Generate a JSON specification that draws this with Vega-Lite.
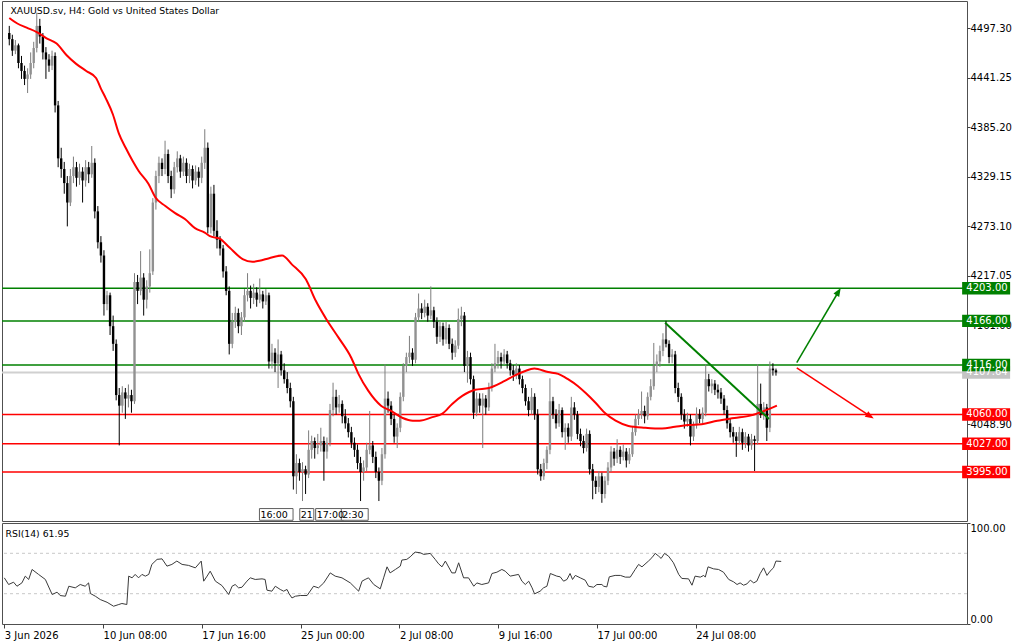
{
"$schema":"https://vega.github.io/schema/vega-lite/v6.json",
"padding":0,
"background":"#ffffff",
"spacing":2,
"bounds":"flush",
"config":{"view":{"stroke":"#505050","strokeWidth":1},"font":"DejaVu Sans","axis":{"labelFont":"DejaVu Sans","labelFontSize":10,"labelColor":"#000000","tickColor":"#404040","domain":false,"grid":false}},
"datasets":{
"candles":[
{"i":0,"o":4492,"h":4500,"l":4478,"c":4485},{"i":1,"o":4485,"h":4490,"l":4466,"c":4472},{"i":2,"o":4472,"h":4484,"l":4468,"c":4478},{"i":3,"o":4478,"h":4480,"l":4452,"c":4458},{"i":4,"o":4458,"h":4466,"l":4440,"c":4449},{"i":5,"o":4449,"h":4455,"l":4433,"c":4440},{"i":6,"o":4440,"h":4452,"l":4424,"c":4445},{"i":7,"o":4445,"h":4470,"l":4440,"c":4458},{"i":8,"o":4458,"h":4482,"l":4452,"c":4475},{"i":9,"o":4475,"h":4515,"l":4470,"c":4500},
{"i":10,"o":4500,"h":4508,"l":4480,"c":4488},{"i":11,"o":4488,"h":4492,"l":4462,"c":4470},{"i":12,"o":4470,"h":4476,"l":4440,"c":4462},{"i":13,"o":4462,"h":4468,"l":4448,"c":4455},{"i":14,"o":4455,"h":4472,"l":4450,"c":4466},{"i":15,"o":4466,"h":4470,"l":4402,"c":4410},{"i":16,"o":4410,"h":4415,"l":4340,"c":4350},{"i":17,"o":4350,"h":4362,"l":4328,"c":4338},{"i":18,"o":4338,"h":4346,"l":4310,"c":4322},{"i":19,"o":4322,"h":4330,"l":4273,"c":4300},
{"i":20,"o":4300,"h":4338,"l":4296,"c":4330},{"i":21,"o":4330,"h":4352,"l":4322,"c":4340},{"i":22,"o":4340,"h":4346,"l":4318,"c":4328},{"i":23,"o":4328,"h":4344,"l":4320,"c":4335},{"i":24,"o":4335,"h":4340,"l":4300,"c":4325},{"i":25,"o":4325,"h":4348,"l":4318,"c":4340},{"i":26,"o":4340,"h":4346,"l":4322,"c":4332},{"i":27,"o":4332,"h":4364,"l":4328,"c":4345},{"i":28,"o":4345,"h":4350,"l":4282,"c":4290},{"i":29,"o":4290,"h":4296,"l":4248,"c":4255},
{"i":30,"o":4255,"h":4262,"l":4232,"c":4240},{"i":31,"o":4240,"h":4246,"l":4172,"c":4185},{"i":32,"o":4185,"h":4200,"l":4178,"c":4195},{"i":33,"o":4195,"h":4198,"l":4150,"c":4160},{"i":34,"o":4160,"h":4172,"l":4132,"c":4140},{"i":35,"o":4140,"h":4145,"l":4076,"c":4082},{"i":36,"o":4082,"h":4090,"l":4025,"c":4070},{"i":37,"o":4070,"h":4092,"l":4062,"c":4085},{"i":38,"o":4085,"h":4090,"l":4055,"c":4078},{"i":39,"o":4078,"h":4094,"l":4068,"c":4082},
{"i":40,"o":4082,"h":4088,"l":4062,"c":4075},{"i":41,"o":4075,"h":4220,"l":4072,"c":4210},{"i":42,"o":4210,"h":4218,"l":4185,"c":4200},{"i":43,"o":4200,"h":4245,"l":4195,"c":4215},{"i":44,"o":4215,"h":4220,"l":4172,"c":4190},{"i":45,"o":4190,"h":4212,"l":4180,"c":4205},{"i":46,"o":4205,"h":4247,"l":4198,"c":4220},{"i":47,"o":4222,"h":4305,"l":4218,"c":4300},{"i":48,"o":4300,"h":4336,"l":4292,"c":4330},{"i":49,"o":4330,"h":4352,"l":4322,"c":4345},
{"i":50,"o":4345,"h":4350,"l":4330,"c":4338},{"i":51,"o":4338,"h":4370,"l":4332,"c":4355},{"i":52,"o":4355,"h":4360,"l":4322,"c":4330},{"i":53,"o":4330,"h":4336,"l":4305,"c":4315},{"i":54,"o":4315,"h":4346,"l":4310,"c":4340},{"i":55,"o":4340,"h":4358,"l":4334,"c":4350},{"i":56,"o":4350,"h":4354,"l":4328,"c":4335},{"i":57,"o":4335,"h":4352,"l":4330,"c":4345},{"i":58,"o":4345,"h":4350,"l":4322,"c":4330},{"i":59,"o":4330,"h":4344,"l":4322,"c":4338},
{"i":60,"o":4338,"h":4342,"l":4316,"c":4325},{"i":61,"o":4325,"h":4342,"l":4320,"c":4335},{"i":62,"o":4335,"h":4340,"l":4318,"c":4328},{"i":63,"o":4328,"h":4352,"l":4322,"c":4345},{"i":64,"o":4345,"h":4383,"l":4338,"c":4362},{"i":65,"o":4362,"h":4368,"l":4265,"c":4272},{"i":66,"o":4272,"h":4318,"l":4265,"c":4310},{"i":67,"o":4310,"h":4320,"l":4262,"c":4268},{"i":68,"o":4268,"h":4280,"l":4248,"c":4258},{"i":69,"o":4258,"h":4262,"l":4240,"c":4248},
{"i":70,"o":4248,"h":4252,"l":4215,"c":4222},{"i":71,"o":4222,"h":4228,"l":4195,"c":4200},{"i":72,"o":4200,"h":4205,"l":4128,"c":4140},{"i":73,"o":4140,"h":4175,"l":4135,"c":4165},{"i":74,"o":4165,"h":4182,"l":4158,"c":4175},{"i":75,"o":4175,"h":4180,"l":4152,"c":4160},{"i":76,"o":4160,"h":4176,"l":4150,"c":4170},{"i":77,"o":4170,"h":4202,"l":4165,"c":4195},{"i":78,"o":4195,"h":4220,"l":4188,"c":4200},{"i":79,"o":4200,"h":4206,"l":4180,"c":4192},
{"i":80,"o":4192,"h":4208,"l":4185,"c":4198},{"i":81,"o":4198,"h":4204,"l":4182,"c":4190},{"i":82,"o":4190,"h":4214,"l":4186,"c":4196},{"i":83,"o":4196,"h":4200,"l":4180,"c":4188},{"i":84,"o":4188,"h":4202,"l":4184,"c":4195},{"i":85,"o":4195,"h":4198,"l":4112,"c":4120},{"i":86,"o":4120,"h":4140,"l":4112,"c":4130},{"i":87,"o":4130,"h":4135,"l":4108,"c":4118},{"i":88,"o":4118,"h":4145,"l":4090,"c":4128},{"i":89,"o":4128,"h":4132,"l":4104,"c":4110},
{"i":90,"o":4110,"h":4118,"l":4095,"c":4100},{"i":91,"o":4100,"h":4108,"l":4084,"c":4090},{"i":92,"o":4090,"h":4096,"l":4068,"c":4075},{"i":93,"o":4075,"h":4080,"l":3975,"c":3990},{"i":94,"o":3990,"h":4015,"l":3970,"c":4005},{"i":95,"o":4005,"h":4010,"l":3985,"c":3995},{"i":96,"o":3995,"h":4006,"l":3962,"c":3998},{"i":97,"o":3998,"h":4002,"l":3970,"c":3992},{"i":98,"o":3992,"h":4042,"l":3988,"c":4020},{"i":99,"o":4020,"h":4036,"l":4010,"c":4030},
{"i":100,"o":4030,"h":4034,"l":4010,"c":4022},{"i":101,"o":4022,"h":4038,"l":4015,"c":4025},{"i":102,"o":4025,"h":4045,"l":4018,"c":4030},{"i":103,"o":4030,"h":4035,"l":3985,"c":4018},{"i":104,"o":4018,"h":4034,"l":4010,"c":4028},{"i":105,"o":4028,"h":4072,"l":4024,"c":4065},{"i":106,"o":4065,"h":4096,"l":4058,"c":4080},{"i":107,"o":4080,"h":4088,"l":4060,"c":4068},{"i":108,"o":4068,"h":4082,"l":4062,"c":4072},{"i":109,"o":4072,"h":4076,"l":4050,"c":4058},
{"i":110,"o":4058,"h":4066,"l":4044,"c":4050},{"i":111,"o":4050,"h":4056,"l":4034,"c":4040},{"i":112,"o":4040,"h":4046,"l":4022,"c":4028},{"i":113,"o":4028,"h":4034,"l":4012,"c":4020},{"i":114,"o":4020,"h":4026,"l":3998,"c":4005},{"i":115,"o":4005,"h":4012,"l":3962,"c":3995},{"i":116,"o":3995,"h":4008,"l":3985,"c":4000},{"i":117,"o":4000,"h":4028,"l":3996,"c":4020},{"i":118,"o":4020,"h":4064,"l":4015,"c":4025},{"i":119,"o":4025,"h":4030,"l":4005,"c":4012},
{"i":120,"o":4012,"h":4018,"l":3988,"c":3995},{"i":121,"o":3995,"h":4000,"l":3962,"c":3985},{"i":122,"o":3985,"h":4022,"l":3980,"c":4015},{"i":123,"o":4015,"h":4117,"l":4010,"c":4078},{"i":124,"o":4078,"h":4086,"l":4062,"c":4070},{"i":125,"o":4070,"h":4075,"l":4048,"c":4055},{"i":126,"o":4055,"h":4060,"l":4028,"c":4035},{"i":127,"o":4035,"h":4050,"l":4022,"c":4045},{"i":128,"o":4045,"h":4085,"l":4040,"c":4080},{"i":129,"o":4080,"h":4118,"l":4075,"c":4115},
{"i":130,"o":4115,"h":4130,"l":4108,"c":4125},{"i":131,"o":4125,"h":4149,"l":4118,"c":4130},{"i":132,"o":4130,"h":4135,"l":4115,"c":4122},{"i":133,"o":4122,"h":4175,"l":4118,"c":4170},{"i":134,"o":4170,"h":4197,"l":4165,"c":4180},{"i":135,"o":4180,"h":4186,"l":4168,"c":4175},{"i":136,"o":4175,"h":4190,"l":4170,"c":4182},{"i":137,"o":4182,"h":4186,"l":4165,"c":4172},{"i":138,"o":4172,"h":4205,"l":4168,"c":4178},{"i":139,"o":4178,"h":4182,"l":4158,"c":4165},
{"i":140,"o":4165,"h":4170,"l":4140,"c":4148},{"i":141,"o":4148,"h":4166,"l":4142,"c":4160},{"i":142,"o":4160,"h":4164,"l":4138,"c":4145},{"i":143,"o":4145,"h":4165,"l":4140,"c":4158},{"i":144,"o":4158,"h":4162,"l":4134,"c":4140},{"i":145,"o":4140,"h":4146,"l":4122,"c":4130},{"i":146,"o":4130,"h":4144,"l":4125,"c":4138},{"i":147,"o":4138,"h":4180,"l":4134,"c":4168},{"i":148,"o":4168,"h":4182,"l":4160,"c":4172},{"i":149,"o":4172,"h":4176,"l":4108,"c":4115},
{"i":150,"o":4115,"h":4132,"l":4096,"c":4125},{"i":151,"o":4125,"h":4130,"l":4094,"c":4100},{"i":152,"o":4100,"h":4104,"l":4055,"c":4062},{"i":153,"o":4062,"h":4085,"l":4058,"c":4078},{"i":154,"o":4078,"h":4084,"l":4062,"c":4070},{"i":155,"o":4070,"h":4084,"l":4022,"c":4078},{"i":156,"o":4078,"h":4082,"l":4060,"c":4068},{"i":157,"o":4068,"h":4096,"l":4064,"c":4090},{"i":158,"o":4090,"h":4118,"l":4086,"c":4112},{"i":159,"o":4112,"h":4140,"l":4108,"c":4118},
{"i":160,"o":4118,"h":4132,"l":4112,"c":4125},{"i":161,"o":4125,"h":4130,"l":4112,"c":4120},{"i":162,"o":4120,"h":4134,"l":4116,"c":4128},{"i":163,"o":4128,"h":4132,"l":4112,"c":4118},{"i":164,"o":4118,"h":4122,"l":4104,"c":4110},{"i":165,"o":4110,"h":4116,"l":4098,"c":4105},{"i":166,"o":4105,"h":4118,"l":4100,"c":4112},{"i":167,"o":4112,"h":4116,"l":4094,"c":4100},{"i":168,"o":4100,"h":4104,"l":4084,"c":4090},{"i":169,"o":4090,"h":4094,"l":4070,"c":4075},
{"i":170,"o":4075,"h":4080,"l":4058,"c":4065},{"i":171,"o":4065,"h":4090,"l":4060,"c":4080},{"i":172,"o":4080,"h":4084,"l":4054,"c":4060},{"i":173,"o":4060,"h":4066,"l":3992,"c":3998},{"i":174,"o":3998,"h":4004,"l":3985,"c":3990},{"i":175,"o":3990,"h":4010,"l":3986,"c":4005},{"i":176,"o":4005,"h":4024,"l":3998,"c":4020},{"i":177,"o":4020,"h":4101,"l":4015,"c":4075},{"i":178,"o":4075,"h":4080,"l":4055,"c":4060},{"i":179,"o":4060,"h":4066,"l":4044,"c":4050},
{"i":180,"o":4050,"h":4072,"l":4046,"c":4065},{"i":181,"o":4065,"h":4068,"l":4034,"c":4040},{"i":182,"o":4040,"h":4050,"l":4020,"c":4045},{"i":183,"o":4045,"h":4050,"l":4028,"c":4035},{"i":184,"o":4035,"h":4080,"l":4030,"c":4068},{"i":185,"o":4068,"h":4074,"l":4054,"c":4060},{"i":186,"o":4060,"h":4064,"l":4032,"c":4038},{"i":187,"o":4038,"h":4044,"l":4024,"c":4030},{"i":188,"o":4030,"h":4036,"l":4016,"c":4022},{"i":189,"o":4022,"h":4044,"l":4018,"c":4038},
{"i":190,"o":4038,"h":4042,"l":3992,"c":3998},{"i":191,"o":3998,"h":4004,"l":3964,"c":3985},{"i":192,"o":3985,"h":3990,"l":3970,"c":3978},{"i":193,"o":3978,"h":3996,"l":3972,"c":3990},{"i":194,"o":3990,"h":3994,"l":3960,"c":3970},{"i":195,"o":3970,"h":3990,"l":3965,"c":3985},{"i":196,"o":3985,"h":4006,"l":3980,"c":4000},{"i":197,"o":4000,"h":4024,"l":3995,"c":4018},{"i":198,"o":4018,"h":4022,"l":4002,"c":4010},{"i":199,"o":4010,"h":4032,"l":4005,"c":4020},
{"i":200,"o":4020,"h":4024,"l":4004,"c":4012},{"i":201,"o":4012,"h":4026,"l":4008,"c":4018},{"i":202,"o":4018,"h":4022,"l":4000,"c":4008},{"i":203,"o":4008,"h":4022,"l":4004,"c":4015},{"i":204,"o":4015,"h":4046,"l":4012,"c":4040},{"i":205,"o":4040,"h":4060,"l":4036,"c":4055},{"i":206,"o":4055,"h":4066,"l":4048,"c":4060},{"i":207,"o":4060,"h":4086,"l":4055,"c":4064},{"i":208,"o":4064,"h":4070,"l":4050,"c":4058},{"i":209,"o":4058,"h":4085,"l":4054,"c":4080},
{"i":210,"o":4080,"h":4100,"l":4076,"c":4092},{"i":211,"o":4092,"h":4141,"l":4088,"c":4115},{"i":212,"o":4115,"h":4128,"l":4108,"c":4120},{"i":213,"o":4120,"h":4138,"l":4114,"c":4132},{"i":214,"o":4132,"h":4152,"l":4126,"c":4145},{"i":215,"o":4145,"h":4166,"l":4136,"c":4140},{"i":216,"o":4140,"h":4144,"l":4118,"c":4125},{"i":217,"o":4125,"h":4134,"l":4118,"c":4128},{"i":218,"o":4128,"h":4132,"l":4084,"c":4090},{"i":219,"o":4090,"h":4096,"l":4074,"c":4080},
{"i":220,"o":4080,"h":4084,"l":4054,"c":4060},{"i":221,"o":4060,"h":4066,"l":4044,"c":4052},{"i":222,"o":4052,"h":4062,"l":4046,"c":4055},{"i":223,"o":4055,"h":4060,"l":4025,"c":4035},{"i":224,"o":4035,"h":4052,"l":4030,"c":4048},{"i":225,"o":4048,"h":4068,"l":4044,"c":4060},{"i":226,"o":4060,"h":4066,"l":4050,"c":4055},{"i":227,"o":4055,"h":4068,"l":4050,"c":4062},{"i":228,"o":4062,"h":4117,"l":4058,"c":4100},{"i":229,"o":4100,"h":4106,"l":4086,"c":4092},
{"i":230,"o":4092,"h":4100,"l":4084,"c":4095},{"i":231,"o":4095,"h":4099,"l":4082,"c":4088},{"i":232,"o":4088,"h":4094,"l":4078,"c":4085},{"i":233,"o":4085,"h":4090,"l":4072,"c":4078},{"i":234,"o":4078,"h":4082,"l":4060,"c":4065},{"i":235,"o":4065,"h":4070,"l":4044,"c":4050},{"i":236,"o":4050,"h":4056,"l":4034,"c":4040},{"i":237,"o":4040,"h":4046,"l":4028,"c":4035},{"i":238,"o":4035,"h":4040,"l":4012,"c":4030},{"i":239,"o":4030,"h":4046,"l":4026,"c":4040},
{"i":240,"o":4040,"h":4044,"l":4020,"c":4028},{"i":241,"o":4028,"h":4040,"l":4022,"c":4035},{"i":242,"o":4035,"h":4038,"l":4018,"c":4025},{"i":243,"o":4025,"h":4038,"l":4020,"c":4032},{"i":244,"o":4032,"h":4036,"l":3996,"c":4030},{"i":245,"o":4030,"h":4117,"l":4026,"c":4072},{"i":246,"o":4072,"h":4095,"l":4056,"c":4060},{"i":247,"o":4060,"h":4074,"l":4054,"c":4068},{"i":248,"o":4068,"h":4072,"l":4030,"c":4045},{"i":249,"o":4045,"h":4120,"l":4040,"c":4112},
{"i":250,"o":4112,"h":4118,"l":4104,"c":4110},{"i":251,"o":4110,"h":4112,"l":4104,"c":4107.64}
],
"ma":[{"i":0,"p":4509},{"i":2.5,"p":4503},{"i":5.7,"p":4498},{"i":9.0,"p":4493},{"i":12.2,"p":4486},{"i":15.5,"p":4480},{"i":18.7,"p":4467},{"i":21.9,"p":4457},{"i":25.2,"p":4449},{"i":28.4,"p":4441},{"i":30.0,"p":4429},{"i":31.6,"p":4418},{"i":33.9,"p":4400},{"i":35.9,"p":4378},{"i":38.1,"p":4362},{"i":40.4,"p":4347},{"i":42.3,"p":4336},{"i":45.6,"p":4321},{"i":47.8,"p":4306},{"i":51.1,"p":4296},{"i":54.3,"p":4288},{"i":57.6,"p":4281},{"i":60.8,"p":4271},{"i":64.0,"p":4266},{"i":65.7,"p":4262},{"i":68.9,"p":4259},{"i":72.1,"p":4249},{"i":76.4,"p":4236},{"i":79.6,"p":4233},{"i":81.9,"p":4234},{"i":85.1,"p":4237},{"i":89.3,"p":4240},{"i":92.5,"p":4230},{"i":97.1,"p":4213},{"i":100.3,"p":4189},{"i":103.6,"p":4169},{"i":107.8,"p":4147},{"i":112.0,"p":4124},{"i":114.3,"p":4106},{"i":117.5,"p":4087},{"i":121.7,"p":4070},{"i":125.0,"p":4064},{"i":128.8,"p":4056},{"i":132.1,"p":4053},{"i":134.3,"p":4053},{"i":138.5,"p":4057},{"i":141.8,"p":4061},{"i":145.0,"p":4072},{"i":148.3,"p":4081},{"i":152.5,"p":4088},{"i":157.0,"p":4090},{"i":162.2,"p":4098},{"i":165.4,"p":4104},{"i":168.7,"p":4109},{"i":171.9,"p":4112},{"i":176.4,"p":4108},{"i":179.7,"p":4106},{"i":182.9,"p":4100},{"i":186.2,"p":4092},{"i":188.8,"p":4084},{"i":192.0,"p":4073},{"i":195.2,"p":4061},{"i":198.5,"p":4053},{"i":202.7,"p":4047},{"i":208.2,"p":4045},{"i":213.7,"p":4044},{"i":217.9,"p":4046},{"i":222.1,"p":4048},{"i":226.7,"p":4049},{"i":231.8,"p":4053},{"i":237.4,"p":4056},{"i":242.9,"p":4059},{"i":247.1,"p":4064},{"i":251.3,"p":4070}],
"rsi":[{"i":0,"v":45.7},{"i":1.4,"v":39.1},{"i":3.0,"v":41.4},{"i":4.1,"v":37.4},{"i":5.7,"v":40.7},{"i":6.8,"v":47.4},{"i":7.9,"v":44.1},{"i":9.0,"v":54.0},{"i":11.1,"v":49.1},{"i":13.3,"v":44.1},{"i":15.5,"v":29.2},{"i":17.1,"v":31.5},{"i":18.1,"v":28.2},{"i":19.8,"v":27.5},{"i":20.9,"v":37.4},{"i":23.0,"v":35.8},{"i":24.6,"v":39.1},{"i":26.2,"v":37.4},{"i":27.3,"v":40.7},{"i":27.9,"v":30.2},{"i":29.5,"v":27.5},{"i":31.1,"v":24.2},{"i":33.3,"v":21.5},{"i":35.4,"v":17.6},{"i":37.1,"v":19.3},{"i":38.1,"v":20.3},{"i":39.7,"v":19.3},{"i":40.3,"v":47.4},{"i":41.4,"v":45.7},{"i":42.4,"v":49.1},{"i":43.5,"v":45.7},{"i":44.6,"v":49.1},{"i":45.7,"v":47.4},{"i":46.8,"v":49.1},{"i":47.8,"v":59.0},{"i":49.5,"v":64.0},{"i":51.1,"v":64.5},{"i":52.7,"v":57.3},{"i":54.3,"v":59.0},{"i":55.9,"v":62.3},{"i":57.6,"v":59.0},{"i":59.7,"v":58.0},{"i":61.9,"v":55.6},{"i":63.8,"v":62.3},{"i":64.6,"v":42.4},{"i":65.7,"v":47.4},{"i":66.7,"v":52.3},{"i":68.4,"v":42.4},{"i":70.5,"v":38.1},{"i":72.7,"v":29.2},{"i":73.8,"v":37.4},{"i":74.8,"v":39.1},{"i":75.9,"v":35.8},{"i":77.0,"v":36.4},{"i":78.6,"v":42.4},{"i":79.7,"v":45.7},{"i":81.3,"v":44.1},{"i":83.5,"v":44.7},{"i":84.5,"v":44.1},{"i":85.1,"v":33.5},{"i":86.7,"v":32.5},{"i":87.8,"v":37.4},{"i":89.4,"v":34.2},{"i":90.5,"v":32.5},{"i":91.6,"v":34.2},{"i":92.3,"v":29.8},{"i":93.2,"v":25.8},{"i":94.3,"v":27.5},{"i":95.9,"v":28.2},{"i":98.1,"v":28.2},{"i":100.2,"v":37.4},{"i":101.8,"v":35.8},{"i":103.5,"v":40.7},{"i":105.6,"v":50.6},{"i":107.2,"v":47.4},{"i":109.4,"v":45.7},{"i":112.1,"v":40.7},{"i":114.8,"v":32.5},{"i":115.9,"v":42.4},{"i":116.9,"v":44.1},{"i":118.0,"v":45.7},{"i":119.7,"v":39.1},{"i":121.8,"v":34.8},{"i":122.9,"v":45.7},{"i":124.0,"v":56.6},{"i":125.0,"v":50.6},{"i":126.7,"v":54.0},{"i":128.3,"v":57.3},{"i":128.8,"v":63.3},{"i":130.4,"v":64.0},{"i":131.5,"v":66.5},{"i":133.1,"v":71.2},{"i":134.8,"v":70.5},{"i":135.9,"v":68.9},{"i":138.0,"v":69.9},{"i":139.6,"v":64.0},{"i":140.7,"v":59.6},{"i":141.8,"v":56.6},{"i":142.9,"v":62.3},{"i":145.0,"v":50.6},{"i":146.1,"v":50.6},{"i":147.2,"v":60.6},{"i":148.8,"v":45.7},{"i":150.4,"v":45.7},{"i":152.1,"v":37.4},{"i":153.1,"v":40.7},{"i":154.7,"v":39.1},{"i":156.9,"v":40.7},{"i":158.0,"v":50.0},{"i":159.6,"v":51.3},{"i":161.2,"v":54.0},{"i":162.3,"v":52.3},{"i":163.9,"v":47.4},{"i":166.6,"v":49.1},{"i":167.7,"v":42.4},{"i":168.8,"v":39.1},{"i":169.9,"v":42.4},{"i":171.0,"v":35.8},{"i":171.8,"v":29.8},{"i":173.6,"v":32.5},{"i":174.7,"v":35.8},{"i":175.8,"v":37.4},{"i":176.9,"v":50.0},{"i":179.0,"v":47.4},{"i":180.1,"v":46.7},{"i":181.2,"v":42.4},{"i":182.3,"v":44.1},{"i":183.3,"v":50.0},{"i":184.1,"v":44.1},{"i":185.0,"v":48.1},{"i":186.6,"v":45.7},{"i":188.2,"v":43.4},{"i":189.3,"v":37.4},{"i":190.9,"v":36.4},{"i":192.0,"v":39.1},{"i":193.6,"v":39.1},{"i":194.2,"v":37.4},{"i":195.2,"v":36.7},{"i":196.0,"v":46.7},{"i":197.9,"v":48.1},{"i":199.6,"v":48.1},{"i":201.2,"v":46.4},{"i":202.8,"v":46.4},{"i":204.4,"v":54.0},{"i":205.5,"v":59.0},{"i":206.6,"v":56.6},{"i":208.7,"v":62.3},{"i":209.8,"v":65.6},{"i":210.9,"v":69.9},{"i":212.0,"v":67.2},{"i":212.8,"v":64.9},{"i":213.9,"v":69.9},{"i":215.2,"v":67.2},{"i":216.8,"v":60.6},{"i":218.5,"v":49.1},{"i":219.5,"v":45.1},{"i":221.7,"v":44.7},{"i":222.8,"v":38.4},{"i":223.8,"v":47.4},{"i":225.5,"v":46.4},{"i":226.6,"v":48.1},{"i":227.1,"v":46.4},{"i":228.0,"v":56.6},{"i":229.8,"v":54.6},{"i":231.4,"v":54.0},{"i":233.0,"v":51.3},{"i":234.7,"v":44.1},{"i":236.3,"v":41.7},{"i":237.4,"v":39.1},{"i":238.4,"v":40.7},{"i":239.5,"v":38.4},{"i":240.6,"v":39.7},{"i":241.7,"v":43.4},{"i":242.8,"v":40.7},{"i":243.8,"v":42.4},{"i":244.9,"v":50.0},{"i":246.0,"v":55.6},{"i":247.1,"v":48.1},{"i":248.1,"v":52.3},{"i":249.2,"v":55.6},{"i":250.0,"v":62.3},{"i":251.7,"v":61.95}],
"green":[{"p":4203},{"p":4166},{"p":4116}],
"red":[{"p":4060},{"p":4027},{"p":3995}],
"boxes":[{"p":4107.64,"t":"4107.64","k":"n"},{"p":4203,"t":"4203.00","k":"g"},{"p":4166,"t":"4166.00","k":"g"},{"p":4116,"t":"4116.00","k":"g"},{"p":4060,"t":"4060.00","k":"r"},{"p":4027,"t":"4027.00","k":"r"},{"p":3995,"t":"3995.00","k":"r"}],
"trend":[{"i":214.7,"p":4164},{"i":248.7,"p":4055}],
"arrows":[{"k":"up","i":257.8,"p":4118.6},{"k":"up","i":271.4,"p":4198.7},{"k":"dn","i":257.8,"p":4112.7},{"k":"dn","i":281.7,"p":4058.3}],
"times":[{"a":81.9,"b":92.9,"t":"16:00"},{"a":95.1,"b":99.7,"t":"21"},{"a":100.3,"b":109.4,"t":"17:00"},{"a":108.7,"b":117.5,"t":"2:30"}]
},
"vconcat":[
{
"width":965,"height":520,
"layer":[
{"data":{"values":[{"p":4107.64}]},"mark":{"type":"rule","color":"#d0d0d0","strokeWidth":2},"encoding":{"y":{"field":"p","type":"quantitative","title":null,"scale":{"domain":[3939.4,4528.2],"nice":false,"zero":false},"axis":{"orient":"right","values":[4048.9,4161.0,4217.05,4273.1,4329.15,4385.2,4441.25,4497.3],"format":".2f","tickSize":3,"labelPadding":0,"title":null}}}},
{"data":{"name":"green"},"mark":{"type":"rule","color":"#008000","strokeWidth":1.5},"encoding":{"y":{"field":"p","type":"quantitative","title":null}}},
{"data":{"name":"red"},"mark":{"type":"rule","color":"#ff0000","strokeWidth":1.5},"encoding":{"y":{"field":"p","type":"quantitative","title":null}}},
{"data":{"name":"candles"},"mark":{"type":"rule","strokeWidth":1},"encoding":{"x":{"field":"i","type":"quantitative","scale":{"domain":[-0.745,311.9],"nice":false,"zero":false},"axis":null},"y":{"field":"l","type":"quantitative","title":null},"y2":{"field":"h"},"color":{"condition":{"test":"datum.c >= datum.o","value":"#7d7d7d"},"value":"#000000"}}},
{"data":{"name":"candles"},"mark":{"type":"bar","width":2.4},"encoding":{"x":{"field":"i","type":"quantitative","axis":null},"y":{"field":"o","type":"quantitative","title":null},"y2":{"field":"c"},"color":{"condition":{"test":"datum.c >= datum.o","value":"#919191"},"value":"#000000"}}},
{"data":{"name":"ma"},"mark":{"type":"line","color":"#ff0000","strokeWidth":2,"interpolate":"monotone"},"encoding":{"x":{"field":"i","type":"quantitative","axis":null},"y":{"field":"p","type":"quantitative","title":null}}},
{"data":{"name":"trend"},"mark":{"type":"line","color":"#008000","strokeWidth":2},"encoding":{"x":{"field":"i","type":"quantitative","axis":null},"y":{"field":"p","type":"quantitative","title":null}}},
{"data":{"name":"arrows"},"mark":{"type":"line","strokeWidth":1.5},"encoding":{"x":{"field":"i","type":"quantitative","axis":null},"y":{"field":"p","type":"quantitative","title":null},"detail":{"field":"k"},"color":{"condition":{"test":"datum.k == 'up'","value":"#008000"},"value":"#ff0000"}}},
{"data":{"values":[{"i":271.4,"p":4198.7}]},"mark":{"type":"point","filled":true,"color":"#008000","opacity":1,"shape":"M0,-1L0.7,0.8L-0.7,0.8Z","size":90,"angle":31},"encoding":{"x":{"field":"i","type":"quantitative","axis":null},"y":{"field":"p","type":"quantitative","title":null}}},
{"data":{"values":[{"i":281.7,"p":4058.3}]},"mark":{"type":"point","filled":true,"color":"#ff0000","opacity":1,"shape":"M0,-1L0.7,0.8L-0.7,0.8Z","size":90,"angle":122},"encoding":{"x":{"field":"i","type":"quantitative","axis":null},"y":{"field":"p","type":"quantitative","title":null}}},
{"data":{"name":"boxes"},"mark":{"type":"point","filled":true,"opacity":1,"shape":"M-1,-0.26H1V0.26H-1Z","size":2304},"encoding":{"x":{"datum":319.8,"type":"quantitative","axis":null},"y":{"field":"p","type":"quantitative","title":null},"color":{"field":"k","type":"nominal","scale":{"domain":["g","r","n"],"range":["#008000","#ff0000","#c4c4c4"]},"legend":null}}},
{"data":{"name":"boxes"},"mark":{"type":"text","align":"left","baseline":"middle","color":"#ffffff","fontSize":10,"font":"DejaVu Sans"},"encoding":{"x":{"datum":313.3,"type":"quantitative","axis":null},"y":{"field":"p","type":"quantitative","title":null},"text":{"field":"t"}}},
{"data":{"name":"times"},"mark":{"type":"rect","fill":"#ffffff","stroke":"#606060","strokeWidth":1},"encoding":{"x":{"field":"a","type":"quantitative","axis":null},"x2":{"field":"b"},"y":{"datum":3953.5,"type":"quantitative","title":null},"y2":{"datum":3940.2}}},
{"data":{"name":"times"},"mark":{"type":"text","align":"left","baseline":"middle","color":"#000000","fontSize":9.5,"dx":1,"font":"DejaVu Sans"},"encoding":{"x":{"field":"a","type":"quantitative","axis":null},"y":{"datum":3946.5,"type":"quantitative","title":null},"text":{"field":"t"}}},
{"data":{"values":[{}]},"mark":{"type":"text","align":"left","baseline":"middle","color":"#000000","fontSize":9.3,"font":"DejaVu Sans"},"encoding":{"x":{"datum":0.4,"type":"quantitative","axis":null},"y":{"datum":4517,"type":"quantitative","title":null},"text":{"value":"XAUUSD.sv, H4:  Gold vs United States Dollar"}}}
]
},
{
"width":965,"height":101,
"layer":[
{"data":{"values":[{"v":30},{"v":70}]},"mark":{"type":"rule","color":"#c8c8c8","strokeDash":[3,3],"strokeWidth":1},"encoding":{"y":{"field":"v","type":"quantitative","title":null,"scale":{"domain":[0,100],"nice":false,"zero":false},"axis":{"orient":"right","values":[0,30,70,100],"format":".2f","tickSize":3,"labelPadding":0,"labelFlush":true,"title":null}}}},
{"data":{"name":"rsi"},"mark":{"type":"line","color":"#3a3a3a","strokeWidth":1},"encoding":{"x":{"field":"i","type":"quantitative","title":null,"scale":{"domain":[-0.745,311.9],"nice":false,"zero":false},"axis":{"orient":"bottom","values":[0,32,64,96,128,160,192,224],"labelExpr":"['3 Jun 2026','10 Jun 08:00','17 Jun 16:00','25 Jun 00:00','2 Jul 08:00','9 Jul 16:00','17 Jul 00:00','24 Jul 08:00'][round(datum.value/32)]","labelAlign":"left","labelPadding":2,"tickSize":4,"labelFlush":false,"labelOverlap":false,"title":null}},"y":{"field":"v","type":"quantitative","title":null}}},
{"data":{"values":[{}]},"mark":{"type":"text","align":"left","baseline":"middle","color":"#000000","fontSize":9.3,"font":"DejaVu Sans"},"encoding":{"x":{"datum":0.4,"type":"quantitative","title":null},"y":{"datum":89,"type":"quantitative","title":null},"text":{"value":"RSI(14) 61.95"}}}
]
}
]
}
